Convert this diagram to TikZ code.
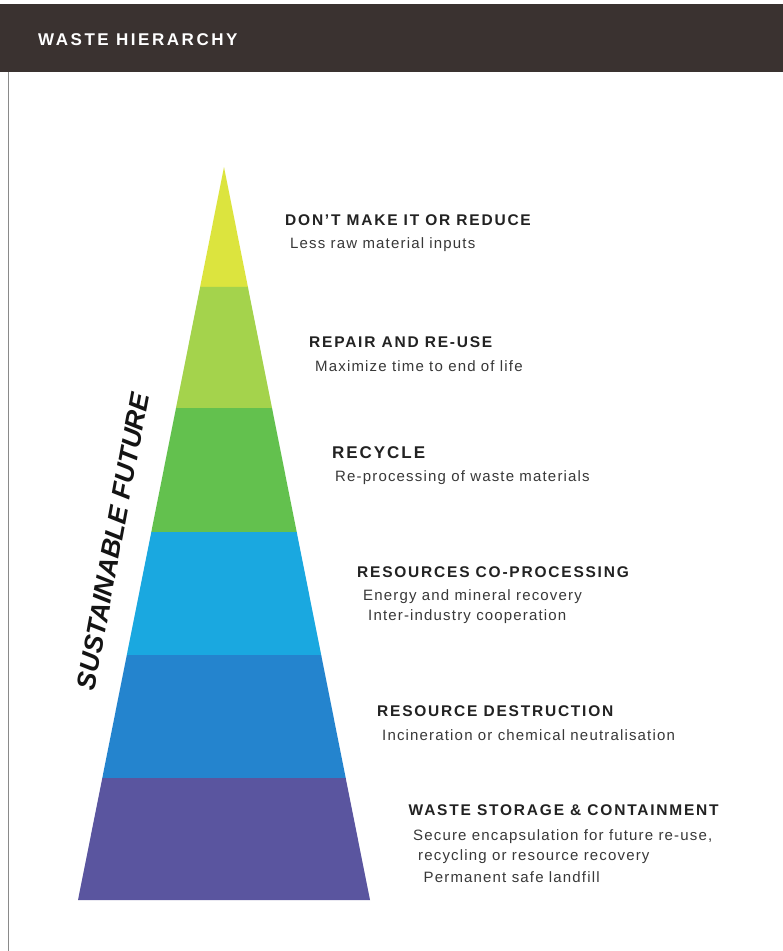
\documentclass[tikz,border=0pt]{standalone}
\usepackage{fontspec}
\setmainfont{Liberation Sans}
\newfontfamily\titlefont[LetterSpace=15]{Liberation Sans}
\newfontfamily\headfont[LetterSpace=11.5]{Liberation Sans}
\newfontfamily\bodyfont[LetterSpace=7.8]{Liberation Sans}
\newfontfamily\sidefont{Liberation Sans}
\usetikzlibrary{calc}

\definecolor{bandcol}{HTML}{3A3230}
\definecolor{headcol}{HTML}{222222}
\definecolor{subcol}{HTML}{383838}
\definecolor{framecol}{HTML}{8A8A8A}
\definecolor{lvlA}{HTML}{DCE43E}
\definecolor{lvlB}{HTML}{A4D34C}
\definecolor{lvlC}{HTML}{63C14E}
\definecolor{lvlD}{HTML}{1AA8E0}
\definecolor{lvlE}{HTML}{2484CE}
\definecolor{lvlF}{HTML}{5A559F}

\tikzset{
  head/.style={anchor=base west, inner sep=0pt, text=headcol,
    font=\headfont\bfseries\fontsize{15.5}{18}\selectfont},
  sub/.style={anchor=base west, inner sep=0pt, text=subcol,
    font=\bodyfont\fontsize{15}{17}\selectfont}
}

\begin{document}
\begin{tikzpicture}[x=1pt, y=-1pt]
  \useasboundingbox (0,0) rectangle (783,951);
  \fill[white] (0,0) rectangle (783,951);

  % header band and page frame
  \fill[bandcol] (0,4) rectangle (783,72);
  \draw[framecol, line width=1.2pt] (8.5,72) -- (8.5,951);
  \node[anchor=base west, inner sep=0pt, text=white,
        font=\titlefont\bfseries\fontsize{17}{20}\selectfont] (title) at (38,45) {WASTE HIERARCHY};

  % pyramid outline points
  \coordinate (apex) at (224,167);
  \coordinate (bl) at (78,900);
  \coordinate (br) at (370,900);

  % layer boundaries along the two sides
  \foreach \n/\t in {1/0.1637, 2/0.3288, 3/0.4980, 4/0.6658, 5/0.8336}{
    \coordinate (L\n) at ($(apex)!\t!(bl)$);
    \coordinate (R\n) at ($(apex)!\t!(br)$);
  }

  % layers, top to bottom
  \fill[lvlA] (apex) -- (L1) -- (R1) -- cycle;
  \fill[lvlB] (L1) -- (L2) -- (R2) -- (R1) -- cycle;
  \fill[lvlC] (L2) -- (L3) -- (R3) -- (R2) -- cycle;
  \fill[lvlD] (L3) -- (L4) -- (R4) -- (R3) -- cycle;
  \fill[lvlE] (L4) -- (L5) -- (R5) -- (R4) -- cycle;
  \fill[lvlF] (L5) -- (bl) -- (br) -- (R5) -- cycle;

  % side label following the left edge
  \node[anchor=base, inner sep=0pt, rotate=79.5, text=black!92,
        font=\sidefont\bfseries\itshape\fontsize{26.5}{30}\selectfont] (side) at (122,543) {SUSTAINABLE FUTURE};

  % level descriptions
  \node[head] (h1) at (285,225.7) {DON’T MAKE IT OR REDUCE};
  \node[sub]  (s1) at (290,248.3) {Less raw material inputs};

  \node[head] (h2) at (309,347.7) {REPAIR AND RE-USE};
  \node[sub]  (s2) at (315,371.5) {Maximize time to end of life};

  \node[head, font=\headfont\bfseries\fontsize{17}{19}\selectfont] (h3) at (332,458.3) {RECYCLE};
  \node[sub]  (s3) at (335,481.7) {Re-processing of waste materials};

  \node[head] (h4) at (357,577.3) {RESOURCES CO-PROCESSING};
  \node[sub]  (s4a) at (363,600) {Energy and mineral recovery};
  \node[sub]  (s4b) at (368,620) {Inter-industry cooperation};

  \node[head] (h5) at (377,716) {RESOURCE DESTRUCTION};
  \node[sub]  (s5) at (382,740) {Incineration or chemical neutralisation};

  \node[head] (h6) at (408.5,815) {WASTE STORAGE \& CONTAINMENT};
  \node[sub]  (s6a) at (413,840) {Secure encapsulation for future re-use,};
  \node[sub]  (s6b) at (418,860.5) {recycling or resource recovery};
  \node[sub]  (s6c) at (423.5,882.7) {Permanent safe landfill};
\end{tikzpicture}
\end{document}
